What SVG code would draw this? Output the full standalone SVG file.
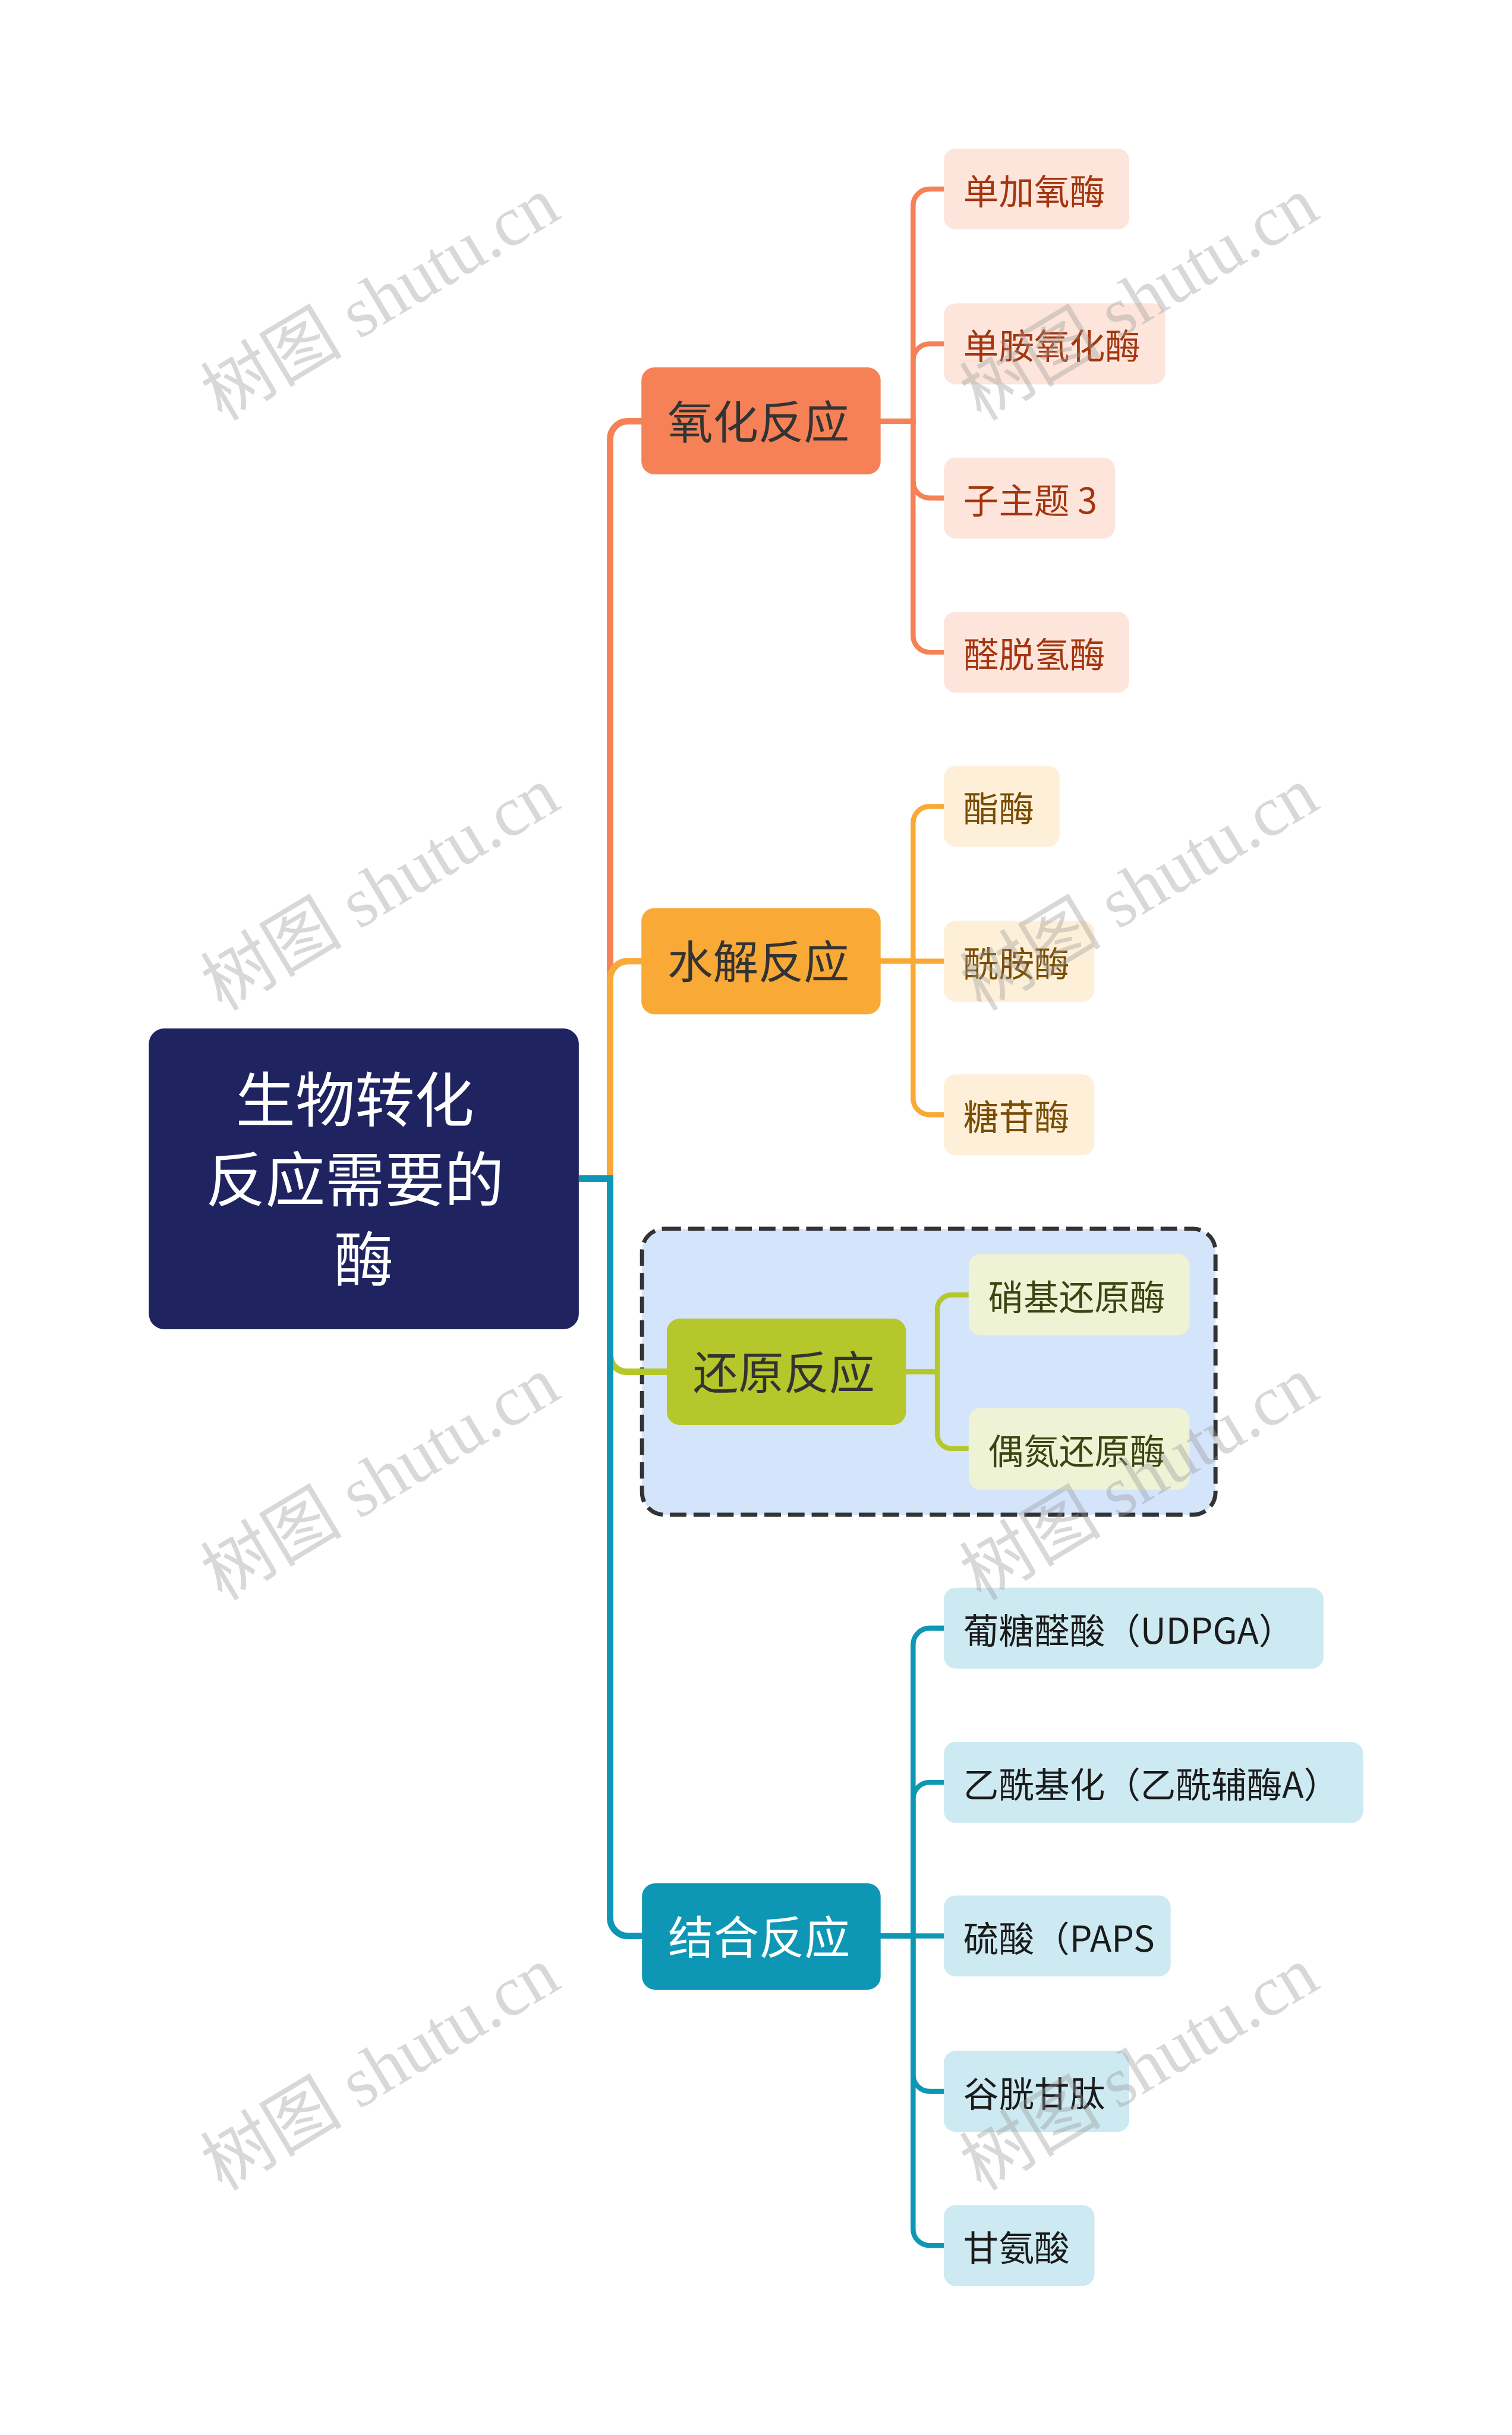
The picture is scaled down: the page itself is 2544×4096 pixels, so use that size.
<svg xmlns="http://www.w3.org/2000/svg" width="2544" height="4096" viewBox="0 0 2544 4096">
<style>
text{font-family:"Noto Sans CJK SC","Noto Sans",sans-serif;dominant-baseline:central}
.root{fill:#1f2461}
.rootT{fill:#ffffff;font-size:101px;text-anchor:middle}
.b1{fill:#f68156}.b2{fill:#f9a935}.b3{fill:#b5c72a}.b4{fill:#0d97b5}
.bT{font-size:77px;text-anchor:middle;fill:#333333}
.bTw{font-size:77px;text-anchor:middle;fill:#ffffff}
.c1{fill:#fde5dc}.c2{fill:#fef0d8}.c3{fill:#eef3d5}.c4{fill:#cde9f1}
.t1{fill:#a3360f;font-size:60px}.t2{fill:#7a4d05;font-size:60px}.t3{fill:#3c4512;font-size:60px}.t4{fill:#1b1b1b;font-size:60px}
.m{fill:none;stroke-width:11;stroke-linecap:butt}
.s{fill:none;stroke-width:8.5}
.k1{stroke:#f68156}.k2{stroke:#f9a935}.k3{stroke:#b5c72a}.k4{stroke:#0d97b5}
.wm{font-family:"Liberation Serif","Noto Sans CJK SC",serif;font-size:120px;fill:#9a9a9a;opacity:0.38;text-anchor:middle}
</style>
<rect width="2544" height="4096" fill="#ffffff"/>
<g transform="scale(0.99375)">
<g id="group-reduction">
<rect x="1087" y="2080" width="971" height="484" rx="38" fill="#d4e4fb" stroke="#333333" stroke-width="7" stroke-dasharray="28 12"/>
</g>
<g id="connectors">
<path class="m k1" d="M980,1995 H1033 V743 A30,30 0 0 1 1063,713 H1090"/>
<path class="m k2" d="M980,1995 H1033 V1657 A30,30 0 0 1 1063,1627 H1090"/>
<path class="m k3" d="M980,1995 H1033 V2294 A28,28 0 0 0 1061,2322 H1133"/>
<path class="m k4" d="M980,1995 H1033 V3247 A30,30 0 0 0 1063,3277 H1091"/>
<path class="s k1" d="M1488,713 H1546 V348 A28,28 0 0 1 1574,320 H1601"/>
<path class="s k1" d="M1488,713 H1546 V610 A28,28 0 0 1 1574,582 H1601"/>
<path class="s k1" d="M1488,713 H1546 V815 A28,28 0 0 0 1574,843 H1601"/>
<path class="s k1" d="M1488,713 H1546 V1076 A28,28 0 0 0 1574,1104 H1601"/>
<path class="s k2" d="M1488,1627 H1546 V1393 A28,28 0 0 1 1574,1365 H1601"/>
<path class="s k2" d="M1488,1627 H1601"/>
<path class="s k2" d="M1488,1627 H1546 V1859 A28,28 0 0 0 1574,1887 H1601"/>
<path class="s k3" d="M1531,2322 H1587 V2216 A24,24 0 0 1 1611,2192 H1643"/>
<path class="s k3" d="M1531,2322 H1587 V2428 A24,24 0 0 0 1611,2452 H1643"/>
<path class="s k4" d="M1488,3277 H1546 V2784 A28,28 0 0 1 1574,2756 H1601"/>
<path class="s k4" d="M1488,3277 H1546 V3045 A28,28 0 0 1 1574,3017 H1601"/>
<path class="s k4" d="M1488,3277 H1601"/>
<path class="s k4" d="M1488,3277 H1546 V3512 A28,28 0 0 0 1574,3540 H1601"/>
<path class="s k4" d="M1488,3277 H1546 V3773 A28,28 0 0 0 1574,3801 H1601"/>
</g>
<g id="root">
<rect class="root" x="252" y="1741" width="728" height="509" rx="26"/>
<text class="rootT" x="601" y="1855">生物转化</text>
<text class="rootT" x="601" y="1990">反应需要的</text>
<text class="rootT" x="616" y="2125">酶</text>
</g>
<g id="n-oxidation">
<rect class="b1" x="1086" y="622" width="405" height="181" rx="22"/>
<text class="bT" x="1284" y="709">氧化反应</text>
</g>
<g id="n-ox-1"><rect class="c1" x="1598" y="251.5" width="314" height="137" rx="20"/><text class="t1" x="1631" y="320">单加氧酶</text></g>
<g id="n-ox-2"><rect class="c1" x="1598" y="513.5" width="375" height="137" rx="20"/><text class="t1" x="1631" y="582">单胺氧化酶</text></g>
<g id="n-ox-3"><rect class="c1" x="1598" y="774.5" width="290" height="137" rx="20"/><text class="t1" x="1631" y="843">子主题 3</text></g>
<g id="n-ox-4"><rect class="c1" x="1598" y="1035.5" width="314" height="137" rx="20"/><text class="t1" x="1631" y="1104">醛脱氢酶</text></g>
<g id="n-hydrolysis">
<rect class="b2" x="1086" y="1537" width="405" height="180" rx="22"/>
<text class="bT" x="1284" y="1623">水解反应</text>
</g>
<g id="n-hy-1"><rect class="c2" x="1598" y="1296.5" width="196" height="137" rx="20"/><text class="t2" x="1631" y="1365">酯酶</text></g>
<g id="n-hy-2"><rect class="c2" x="1598" y="1558.5" width="255" height="137" rx="20"/><text class="t2" x="1631" y="1627">酰胺酶</text></g>
<g id="n-hy-3"><rect class="c2" x="1598" y="1818.5" width="255" height="137" rx="20"/><text class="t2" x="1631" y="1887">糖苷酶</text></g>
<g id="n-reduction">
<rect class="b3" x="1129" y="2232" width="405" height="180" rx="22"/>
<text class="bT" x="1327" y="2318">还原反应</text>
</g>
<g id="n-re-1"><rect class="c3" x="1640" y="2122.5" width="374" height="138" rx="20"/><text class="t3" x="1673" y="2192">硝基还原酶</text></g>
<g id="n-re-2"><rect class="c3" x="1640" y="2383.5" width="374" height="138" rx="20"/><text class="t3" x="1673" y="2452">偶氮还原酶</text></g>
<g id="n-conjugation">
<rect class="b4" x="1087" y="3188" width="404" height="180" rx="22"/>
<text class="bTw" x="1285" y="3274">结合反应</text>
</g>
<g id="n-co-1"><rect class="c4" x="1598" y="2687.5" width="643" height="137" rx="20"/><text class="t4" x="1631" y="2756">葡糖醛酸（UDPGA）</text></g>
<g id="n-co-2"><rect class="c4" x="1598" y="2948.5" width="710" height="137" rx="20"/><text class="t4" x="1631" y="3017">乙酰基化（乙酰辅酶A）</text></g>
<g id="n-co-3"><rect class="c4" x="1598" y="3208.5" width="384" height="137" rx="20"/><text class="t4" x="1631" y="3277">硫酸（PAPS</text></g>
<g id="n-co-4"><rect class="c4" x="1598" y="3471.5" width="314" height="137" rx="20"/><text class="t4" x="1631" y="3540">谷胱甘肽</text></g>
<g id="n-co-5"><rect class="c4" x="1598" y="3732.5" width="255" height="137" rx="20"/><text class="t4" x="1631" y="3801">甘氨酸</text></g>
<g id="watermarks">
<text class="wm" transform="translate(644,506) rotate(-31)">树图 shutu.cn</text>
<text class="wm" transform="translate(1929,506) rotate(-31)">树图 shutu.cn</text>
<text class="wm" transform="translate(644,1505) rotate(-31)">树图 shutu.cn</text>
<text class="wm" transform="translate(1929,1505) rotate(-31)">树图 shutu.cn</text>
<text class="wm" transform="translate(644,2503) rotate(-31)">树图 shutu.cn</text>
<text class="wm" transform="translate(1929,2503) rotate(-31)">树图 shutu.cn</text>
<text class="wm" transform="translate(644,3502) rotate(-31)">树图 shutu.cn</text>
<text class="wm" transform="translate(1929,3502) rotate(-31)">树图 shutu.cn</text>
</g>
</g>
</svg>
